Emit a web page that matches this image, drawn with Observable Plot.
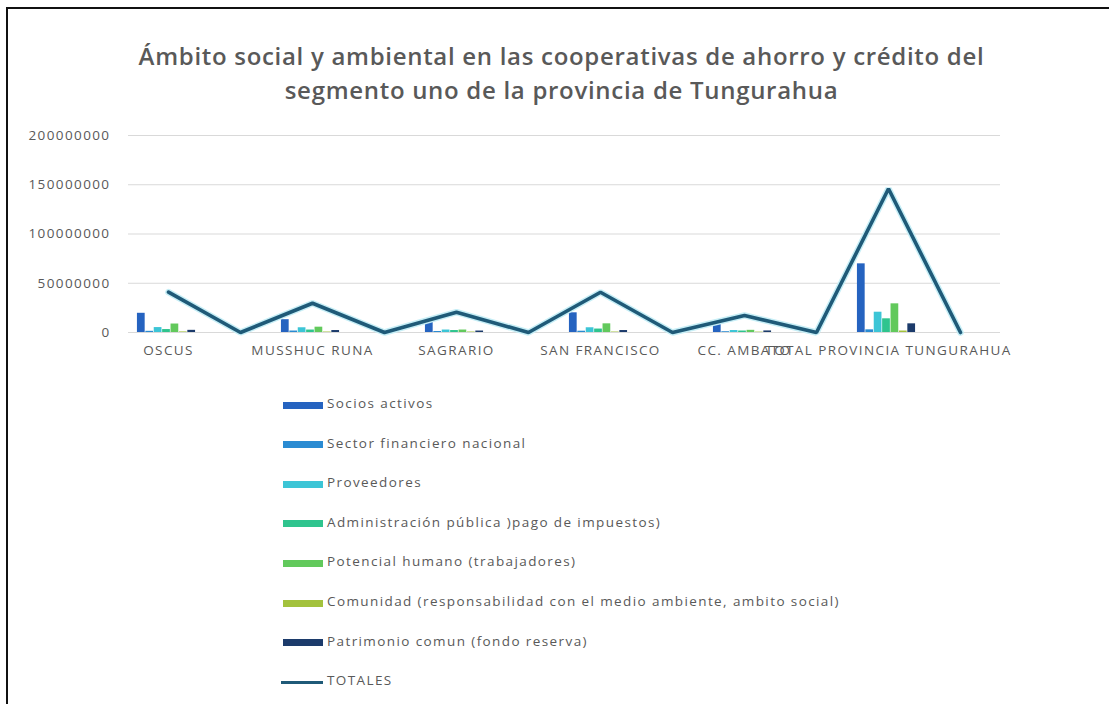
<!DOCTYPE html>
<html>
<head>
<meta charset="utf-8">
<script src="https://cdn.jsdelivr.net/npm/d3@7"></script>
<script src="https://cdn.jsdelivr.net/npm/@observablehq/plot@0.6"></script>
<style>
  html, body { margin: 0; padding: 0; background: #fff; }
  #page { position: relative; width: 1109px; height: 704px; overflow: hidden; font-family: "Open Sans", sans-serif; color: #595959; }
  #border { position: absolute; left: 6px; top: 7px; width: 1120px; height: 720px; border-left: 2px solid #111; border-top: 2px solid #111; }
  #title { position: absolute; left: 0; width: 1109px; top: 39px; text-align: center; font-size: 24px; font-weight: 600; line-height: 34px; color: #595959; letter-spacing: 0.7px; padding-left: 14px; box-sizing: border-box; }
  #chart { position: absolute; left: 0; top: 120px; }
  #legend { position: absolute; left: 283px; top: 386px; }
  .item { position: absolute; left: 0; height: 20px; white-space: nowrap; font-size: 13.5px; letter-spacing: 1.4px; color: #595959; }
  .sw { position: absolute; left: 0; width: 40px; height: 7px; }
  .ln { position: absolute; left: -2px; width: 42px; height: 3px; }
  .lbl { position: absolute; left: 44px; }
</style>
</head>
<body>
<div id="page">
  <div id="border"></div>
  <div id="title">Ámbito social y ambiental en las cooperativas de ahorro y crédito del<br>segmento uno de la provincia de Tungurahua</div>
  <div id="chart"></div>
  <div id="legend"></div>
</div>
<script>
// ---- Data ----
const slotLabels = ["OSCUS", "", "MUSSHUC RUNA", "", "SAGRARIO", "", "SAN FRANCISCO", "", "CC. AMBATO", "", "TOTAL PROVINCIA TUNGURAHUA", ""];
const coopSlots = [0, 2, 4, 6, 8, 10];

const seriesNames = [
  "Socios activos",
  "Sector financiero nacional",
  "Proveedores",
  "Administración pública )pago de impuestos)",
  "Potencial humano (trabajadores)",
  "Comunidad (responsabilidad con el medio ambiente, ambito social)",
  "Patrimonio comun (fondo reserva)"
];
const seriesColors = ["#2563c0", "#2a8bd2", "#3cc5d6", "#2fc48e", "#62c95c", "#a3c23d", "#1c3b6b"];

const socios      = [19500000, 13000000, 10500000, 20000000, 8800000, 69700000];
const sector      = [1200000, 1500000, 1000000, 1300000, 800000, 2700000];
const proveedores = [5000000, 4800000, 2500000, 4800000, 2000000, 20600000];
const admin       = [3000000, 2500000, 2000000, 3500000, 1500000, 13900000];
const potencial   = [8600000, 5400000, 2500000, 8800000, 2200000, 29100000];
const comunidad   = [600000, 500000, 500000, 500000, 400000, 1500000];
const patrimonio  = [2200000, 2000000, 1500000, 2000000, 1600000, 8800000];
const seriesValues = [socios, sector, proveedores, admin, potencial, comunidad, patrimonio];

const totalesName = "TOTALES";
const totales = [41000000, 0, 29700000, 0, 20600000, 0, 40900000, 0, 17300000, 0, 145900000, 0];

const yTicks = [0, 50000000, 100000000, 150000000, 200000000];

// ---- Chart ----
const W = 1109, H = 250;
const mL = 128, mR = 109;
const step = (W - mL - mR) / slotLabels.length;
const barW = 8.4;
const inset = (step - barW) / 2;

const lineData = totales.map((v, i) => ({slot: i, v}));

const marks = [
  Plot.ruleY(yTicks, {stroke: "#d9d9d9", strokeWidth: 1})
];
seriesValues.forEach((vals, k) => {
  marks.push(Plot.barY(coopSlots.map((s, i) => ({slot: s, v: vals[i]})), {
    x: "slot", y: "v", fill: seriesColors[k],
    insetLeft: inset, insetRight: inset, dx: (k - 3) * barW - 2
  }));
});
marks.push(Plot.lineY(lineData, {x: "slot", y: "v", stroke: "#c6eef6", strokeWidth: 6.5, strokeLinejoin: "miter"}));
marks.push(Plot.lineY(lineData, {x: "slot", y: "v", stroke: "#1f5a78", strokeWidth: 3.6, strokeLinejoin: "miter"}));
marks.push(Plot.axisX({tickSize: 0, tickPadding: 13, tickFormat: i => slotLabels[i], fill: "#595959", label: null}));
marks.push(Plot.axisY({ticks: yTicks, tickSize: 0, tickPadding: 18, tickFormat: d3.format("d"), label: null, fill: "#595959"}));

const chart = Plot.plot({
  width: W, height: H,
  marginLeft: mL, marginRight: mR, marginTop: 15, marginBottom: 38,
  x: {type: "band", domain: d3.range(slotLabels.length), padding: 0, axis: null, label: null},
  y: {domain: [0, 200000000], axis: null, label: null},
  style: {fontFamily: "Open Sans, sans-serif", fontSize: "13.5px", color: "#595959", background: "transparent", letterSpacing: "1.4px", overflow: "visible"},
  marks
});
document.getElementById("chart").appendChild(chart);

// ---- Legend ----
const legend = document.getElementById("legend");
const rowGap = 39.6;
seriesNames.forEach((name, k) => {
  const item = document.createElement("div");
  item.className = "item";
  item.style.top = (k * rowGap) + "px";
  item.innerHTML = `<div class="sw" style="top:15.5px;background:${seriesColors[k]}"></div><div class="lbl" style="top:8px">${name}</div>`;
  legend.appendChild(item);
});
const tItem = document.createElement("div");
tItem.className = "item";
tItem.style.top = (seriesNames.length * rowGap) + "px";
tItem.innerHTML = `<div class="ln" style="top:18px;background:#1f5a78"></div><div class="lbl" style="top:8px">${totalesName}</div>`;
legend.appendChild(tItem);
</script>
</body>
</html>
